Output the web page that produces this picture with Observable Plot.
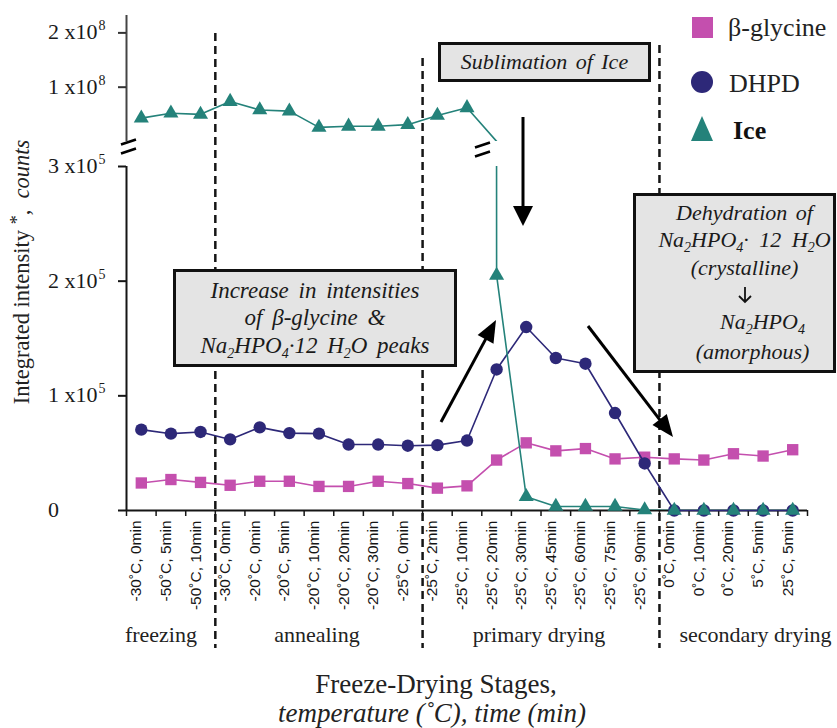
<!DOCTYPE html>
<html>
<head>
<meta charset="utf-8">
<script src="https://cdn.jsdelivr.net/npm/d3@7"></script>
<script src="https://cdn.jsdelivr.net/npm/@observablehq/plot@0.6"></script>
<style>
  html, body { margin: 0; padding: 0; background: #fff; }
  #wrap { position: relative; width: 837px; height: 728px; overflow: hidden; font-family: "Liberation Serif", "Times New Roman", Times, serif; color: #1a1a1a; }
  #wrap > svg, #wrap > .layer { position: absolute; left: 0; top: 0; }
  #wrap svg text { font-family: "Liberation Serif", "Times New Roman", Times, serif; }
  #wrap svg text.sans, #wrap svg .sans text { font-family: "Liberation Sans", Arial, Helvetica, sans-serif; }
  .ytick { position: absolute; left: 48px; font-size: 22px; line-height: 1; transform: translateY(-50%); white-space: nowrap; }
  .ytick sup { font-size: 14px; vertical-align: 0; position: relative; top: -9px; margin-left: 1px; }
  .box { position: absolute; box-sizing: border-box; border: 3px solid #111; background: #e4e4e4; font-style: italic; font-size: 22px; text-align: center; display: flex; flex-direction: column; justify-content: center; white-space: nowrap; word-spacing: 3px; }
  .box sub { font-size: 14px; vertical-align: 0; position: relative; top: 5px; line-height: 0; }
  .box .ln { height: 27px; line-height: 27px; overflow: visible; }
</style>
</head>
<body>
<div id="wrap"></div>
<script>
// ---------------- data ----------------
const categories = [
  "-30˚C, 0min", "-50˚C, 5min", "-50˚C, 10min",
  "-30˚C, 0min", "-20˚C, 0min", "-20˚C, 5min", "-20˚C, 10min", "-20˚C, 20min", "-20˚C, 30min", "-25˚C, 0min",
  "-25˚C, 2min", "-25˚C, 10min", "-25˚C, 20min", "-25˚C, 30min", "-25˚C, 45min", "-25˚C, 60min", "-25˚C, 75min", "-25˚C, 90min",
  "0˚C, 0min", "0˚C, 10min", "0˚C, 20min", "5˚C, 5min", "25˚C, 5min"
];
const glycine = [24000, 27000, 24500, 22000, 25500, 25500, 21000, 21000, 25500, 23500,
  19500, 21500, 44000, 59000, 52000, 54000, 45000, 46500, 45000, 44000, 49500, 47500, 53000];
const dhpd = [70500, 67000, 68500, 62000, 72500, 67500, 67000, 57500, 57500, 56500,
  57000, 61000, 123000, 160000, 133000, 128000, 85000, 41000, 0, 0, 0, 0, 0];
const ice = [0.43e8, 0.52e8, 0.50e8, 0.735e8, 0.58e8, 0.56e8, 0.26e8, 0.28e8, 0.28e8, 0.31e8,
  0.48e8, 0.62e8, 205000, 12000, 3500, 3500, 3500, 500, 0, 0, 0, 0, 0];
const stageNames = ["freezing", "annealing", "primary drying", "secondary drying"];
const stageBounds = [0, 3, 10, 18, 23];
const lowerTicks = [0, 1e5, 2e5, 3e5];
const upperTicks = [1e8, 2e8];
const lowerDomain = [0, 3e5];
const upperDomain = [0, 2.32e8];
const seriesNames = ["β-glycine", "DHPD", "Ice"];

// ---------------- style ----------------
const C_GLY = "#c44fae", C_DHPD = "#2d2878", C_ICE = "#24827a", INK = "#151515";
const W = 837, H = 728;
const stageNudge = [-10, -2, -2, 22]; // px shift of stage labels from the span centre

const rec = arr => arr.map((v, i) => ({x: i + 0.5, v}));
const gly = rec(glycine), dh = rec(dhpd), ic = rec(ice);
const xDomain = [0, categories.length];
const separators = stageBounds.slice(1, -1);
const sepTops = [33, 58, 45];

// ---------------- lower panel ----------------
const lower = Plot.plot({
  width: W, height: H,
  marginLeft: 126, marginRight: 30, marginTop: 166, marginBottom: 218,
  x: {domain: xDomain, axis: null},
  y: {domain: lowerDomain, axis: null},
  style: {background: "transparent", overflow: "visible"},
  marks: [
    ...separators.map((s, k) => Plot.ruleX([s], {stroke: INK, strokeWidth: 2.5, strokeDasharray: "8,5",
      insetTop: -(166 - sepTops[k]), insetBottom: -138})),
    Plot.ruleX([0], {y1: lowerDomain[0], y2: lowerDomain[1], stroke: INK, strokeWidth: 2}),
    Plot.ruleY([0], {x1: xDomain[0], x2: xDomain[1], stroke: INK, strokeWidth: 2}),
    Plot.axisY(lowerTicks, {tickSize: 8, stroke: INK, strokeWidth: 2, tickFormat: () => "", label: null}),
    Plot.axisX(d3.range(categories.length + 1), {tickSize: 6, stroke: INK, strokeWidth: 1.5, tickFormat: () => "", label: null}),
    Plot.text(categories, {x: (d, i) => i + 0.5, text: d => d, frameAnchor: "bottom", dy: 10,
      rotate: -90, textAnchor: "end", fontSize: 15.5, fill: INK, className: "sans"}),
    ...stageNames.map((name, i) => Plot.text([name], {x: () => (stageBounds[i] + stageBounds[i + 1]) / 2, text: d => d,
      frameAnchor: "bottom", dy: 131, dx: stageNudge[i], fontSize: 22, fill: "#222"})),
    Plot.line(gly, {x: "x", y: "v", stroke: C_GLY, strokeWidth: 1.6}),
    Plot.dot(gly, {x: "x", y: "v", symbol: "square", r: 6.4, fill: C_GLY}),
    Plot.line(dh, {x: "x", y: "v", stroke: C_DHPD, strokeWidth: 1.6}),
    Plot.dot(dh, {x: "x", y: "v", symbol: "circle", r: 6.2, fill: C_DHPD}),
    Plot.line(ic.slice(11), {x: "x", y: "v", stroke: C_ICE, strokeWidth: 1.6, clip: true}),
    Plot.dot(ic.filter(d => d.v <= lowerDomain[1]), {x: "x", y: "v", symbol: "triangle", r: 5.6, fill: C_ICE})
  ]
});

// ---------------- upper panel ----------------
const upper = Plot.plot({
  width: W, height: 160,
  marginLeft: 126, marginRight: 30, marginTop: 15, marginBottom: 19,
  x: {domain: xDomain, axis: null},
  y: {domain: upperDomain, axis: null},
  style: {background: "transparent", overflow: "visible"},
  marks: [
    Plot.ruleX([0], {stroke: "#444", strokeWidth: 2}),
    Plot.axisY(upperTicks, {tickSize: 8, stroke: "#333", strokeWidth: 2, tickFormat: () => "", label: null}),
    Plot.line(ic.slice(0, 13), {x: "x", y: "v", stroke: C_ICE, strokeWidth: 1.6, clip: true}),
    Plot.dot(ic.filter(d => d.v > lowerDomain[1]), {x: "x", y: "v", symbol: "triangle", r: 5.6, fill: C_ICE})
  ]
});

const wrap = document.getElementById("wrap");
wrap.appendChild(lower);
wrap.appendChild(upper);

// ---------------- y tick labels (with superscripts) ----------------
function tickHTML(v) {
  if (v === 0) return "0";
  const e = Math.floor(Math.log10(v));
  const m = Math.round(v / Math.pow(10, e));
  return `${m} x10<sup>${e}</sup>`;
}
const yLow = lower.scale("y"), yUp = upper.scale("y");
for (const v of lowerTicks) {
  const d = document.createElement("div");
  d.className = "ytick"; d.style.top = yLow.apply(v) + "px"; d.innerHTML = tickHTML(v);
  wrap.appendChild(d);
}
for (const v of upperTicks) {
  const d = document.createElement("div");
  d.className = "ytick"; d.style.top = yUp.apply(v) + "px"; d.innerHTML = tickHTML(v);
  wrap.appendChild(d);
}

// ---------------- overlay: titles, legend, arrows, breaks ----------------
const svg = d3.create("svg").attr("width", W).attr("height", H).attr("class", "layer")
  .style("overflow", "visible");

// y title
const yt = svg.append("text").attr("transform", "translate(29,272) rotate(-90)")
  .attr("text-anchor", "middle").attr("font-size", 22.5).attr("fill", "#222").attr("xml:space", "preserve");
yt.append("tspan").text("Integrated intensity ");
yt.append("tspan").attr("font-size", 18).attr("dy", -6).text("*");
yt.append("tspan").attr("dy", 6).text(",  ");
yt.append("tspan").attr("font-style", "italic").text("counts");

// x title
svg.append("text").attr("x", 436).attr("y", 693).attr("text-anchor", "middle")
  .attr("font-size", 27).attr("fill", "#222").text("Freeze-Drying Stages,");
svg.append("text").attr("x", 432).attr("y", 722).attr("text-anchor", "middle")
  .attr("font-size", 27).attr("font-style", "italic").attr("fill", "#222").text("temperature (˚C), time (min)");

// legend
const lg = svg.append("g");
lg.append("rect").attr("x", 692).attr("y", 17).attr("width", 21).attr("height", 21).attr("fill", C_GLY);
lg.append("circle").attr("cx", 702).attr("cy", 82).attr("r", 11).attr("fill", C_DHPD);
lg.append("path").attr("d", "M702,116 L713,141 L691,141 Z").attr("fill", C_ICE);
lg.append("text").attr("x", 728).attr("y", 36).attr("font-size", 26).attr("fill", "#222").text(seriesNames[0]);
lg.append("text").attr("x", 729).attr("y", 92).attr("font-size", 26).attr("fill", "#222").text(seriesNames[1]);
lg.append("text").attr("x", 733).attr("y", 139).attr("font-size", 26).attr("font-weight", "bold").attr("fill", "#111").text(seriesNames[2]);

// arrows
function arrow(x1, y1, x2, y2, len = 20, wid = 18) {
  const dx = x2 - x1, dy = y2 - y1, L = Math.hypot(dx, dy);
  const ux = dx / L, uy = dy / L, px = -uy, py = ux;
  const bx = x2 - ux * len, by = y2 - uy * len;
  svg.append("line").attr("x1", x1).attr("y1", y1).attr("x2", bx + ux * 2).attr("y2", by + uy * 2)
    .attr("stroke", "#000").attr("stroke-width", 3);
  svg.append("path").attr("d", `M${x2},${y2} L${bx + px * wid / 2},${by + py * wid / 2} L${bx - px * wid / 2},${by - py * wid / 2} Z`)
    .attr("fill", "#000");
}
arrow(523, 117, 523, 226, 20, 20);
arrow(441, 422, 496, 320, 22, 18);
arrow(588, 326, 673, 437, 22, 18);

// axis / line breaks
function brk(x, y) {
  for (const o of [0, 9]) {
    svg.append("line").attr("x1", x - 8).attr("y1", y + o + 3).attr("x2", x + 7).attr("y2", y + o - 2)
      .attr("stroke", "#000").attr("stroke-width", 2.6);
  }
}
brk(129, 141.5);
brk(483, 144.5);

wrap.appendChild(svg.node());

// ---------------- annotation boxes ----------------
function box(left, top, width, height, html, extra = "") {
  const d = document.createElement("div");
  d.className = "box";
  d.style.cssText = `left:${left}px;top:${top}px;width:${width}px;height:${height}px;${extra}`;
  d.innerHTML = html;
  wrap.appendChild(d);
}
box(438, 42, 213, 40, `<div>Sublimation of Ice</div>`);
box(173, 269, 284, 98,
  `<div class="ln" style="height:27.5px;line-height:27.5px">Increase in intensities</div>
   <div class="ln" style="height:27.5px;line-height:27.5px">of <i>β</i>-glycine &amp;</div>
   <div class="ln" style="height:27.5px;line-height:27.5px">Na<sub>2</sub>HPO<sub>4</sub>·12 H<sub>2</sub>O peaks</div>`,
  "font-size:23px;word-spacing:4px;");
box(633, 193, 203, 180,
  `<div class="ln">Dehydration of</div>
   <div class="ln" style="word-spacing:5px">Na<sub>2</sub>HPO<sub>4</sub>· 12 H<sub>2</sub>O</div>
   <div class="ln" style="height:28px;line-height:30px">(crystalline)</div>
   <div class="ln" style="height:26px"><svg width="16" height="18" viewBox="0 0 16 18" style="vertical-align:-2px"><path d="M8,1 V16 M2,10 L8,16 L14,10" stroke="#111" stroke-width="1.8" fill="none"/></svg></div>
   <div class="ln" style="height:30px;line-height:30px;padding-left:36px">Na<sub>2</sub>HPO<sub>4</sub></div>
   <div class="ln" style="height:30px;line-height:30px;padding-left:16px">(amorphous)</div>`,
  "padding-left:20px;");
</script>
</body>
</html>
